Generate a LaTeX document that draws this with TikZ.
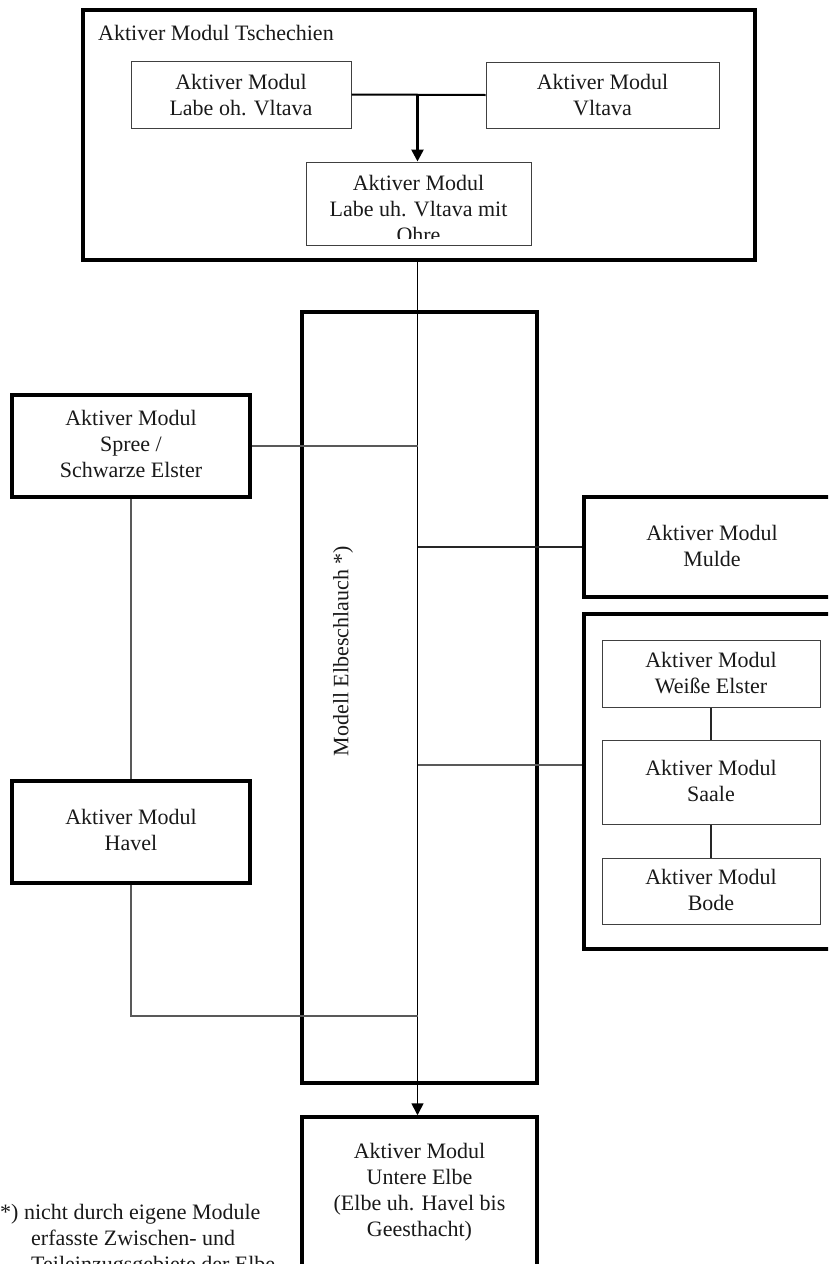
\documentclass[tikz,border=0pt]{standalone}
\usepackage{fontspec}
\setmainfont{Liberation Serif}
\usetikzlibrary{arrows.meta}
\begin{document}
\begin{tikzpicture}[x=1pt,y=-1pt,
  thickbox/.style={draw=black,line width=3.5pt,inner sep=0pt},
  thinbox/.style={draw=black!75,line width=1pt,inner sep=0pt},
  txt/.style={align=center,font=\fontsize{22}{26}\selectfont,inner sep=0pt,text=black!90},
  link/.style={draw=black!65,line width=1.1pt},
  flow/.style={draw=black,line width=1.6pt},
  tip/.style={-{Triangle[width=12pt,length=12pt]}}]
\useasboundingbox (0,0) rectangle (828,1264);
\clip (0,0) rectangle (828,1264);

% top group
\node[thickbox,minimum width=672pt,minimum height=250pt] (tsch) at (419,135) {};
\node[txt,anchor=west] (title) at (98,33) {Aktiver Modul Tschechien};
\node[thinbox,minimum width=220pt,minimum height=67pt] (labeoh) at (241,94.5) {};
\node[txt] (labeohT) at (241,95) {Aktiver Modul\\Labe oh. Vltava};
\node[thinbox,minimum width=233pt,minimum height=66pt] (vltava) at (602.5,95) {};
\node[txt] (vltavaT) at (602.5,95) {Aktiver Modul\\Vltava};
\node[thinbox,minimum width=225pt,minimum height=83pt] (labeuh) at (418.5,203.5) {};
\begin{scope}
  \clip (306,163) rectangle (531,238);
  \node[txt] (labeuhT) at (418.5,209) {Aktiver Modul\\Labe uh. Vltava mit\\Ohre};
\end{scope}
\coordinate (j) at (417.5,94.5);
\draw[draw=black,line width=2pt] (labeoh.east) -- (vltava.west);
\draw[draw=black,line width=2.6pt,tip] (j) -- (j |- labeuh.north);

% model hose
\node[thickbox,minimum width=235pt,minimum height=771pt] (modell) at (419.5,697.5) {};
\node[txt,rotate=90] (modellT) at (343,651) {Modell Elbeschlauch *)};

% left side
\node[thickbox,minimum width=238pt,minimum height=102pt] (spree) at (131,446) {};
\node[txt] (spreeT) at (131,444) {Aktiver Modul\\Spree /\\Schwarze Elster};
\node[thickbox,minimum width=238pt,minimum height=102pt] (havel) at (131,832) {};
\node[txt] (havelT) at (131,830) {Aktiver Modul\\Havel};

% right side
\node[thickbox,minimum width=256pt,minimum height=100pt] (mulde) at (712,547) {};
\node[txt] (muldeT) at (712,546) {Aktiver Modul\\Mulde};
\node[thickbox,minimum width=256pt,minimum height=335pt] (saalegrp) at (712,781.5) {};
\node[thinbox,minimum width=218pt,minimum height=67pt] (weisse) at (711,673.5) {};
\node[txt] (weisseT) at (711,673) {Aktiver Modul\\Weiße Elster};
\node[thinbox,minimum width=218pt,minimum height=84pt] (saale) at (711,782) {};
\node[txt] (saaleT) at (711,781) {Aktiver Modul\\Saale};
\node[thinbox,minimum width=218pt,minimum height=66pt] (bode) at (711,891) {};
\node[txt] (bodeT) at (711,890) {Aktiver Modul\\Bode};

% bottom
\node[thickbox,minimum width=235pt,minimum height=190pt] (unter) at (419.5,1212) {};
\node[txt] (unterT) at (419.5,1192) {Aktiver Modul\\Untere Elbe\\(Elbe uh. Havel bis\\Geesthacht)};

% footnote
\node[txt,align=left,anchor=north west] (fn) at (0,1204) {*) nicht durch eigene Module\\\hspace*{31pt}erfasste Zwischen- und\\\hspace*{31pt}Teileinzugsgebiete der Elbe};

% main flow line
\coordinate (m0) at (417.5,260);
\coordinate (jspree) at (417.5,446);
\coordinate (jmulde) at (417.5,547);
\coordinate (jsaale) at (417.5,765);
\coordinate (jhavel) at (417.5,1016);
\draw[flow,tip] (m0) -- (m0 |- unter.north);

% connectors
\draw[link] (spree.east) -- (jspree);
\draw[link,draw=black!85] (jmulde) -- (mulde.west);
\draw[link] (jsaale) -- (jsaale -| saalegrp.west);
\draw[link] (spree.south) -- (havel.north);
\draw[link] (havel.south) -- (havel.south |- jhavel) -- (jhavel);
\draw[link,draw=black!85] (weisse.south) -- (saale.north);
\draw[link,draw=black!85] (saale.south) -- (bode.north);
\end{tikzpicture}
\end{document}
